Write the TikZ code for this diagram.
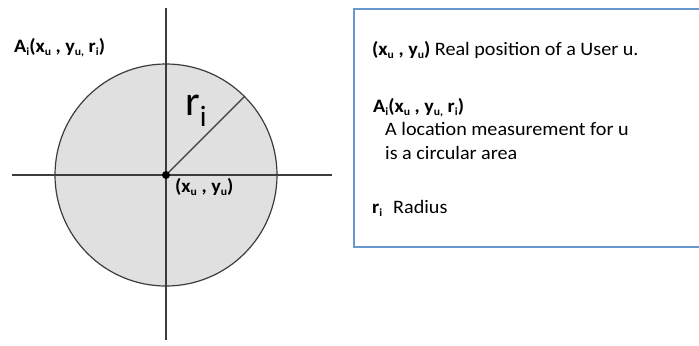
\documentclass[tikz,border=0pt]{standalone}
\usepackage{fontspec}
\setmainfont[FakeStretch=1.06]{Carlito}
\newfontfamily\narrowfont{Carlito}
\usepackage{graphicx}
\usepackage{tikz}
\usetikzlibrary{positioning, calc}
\definecolor{axisGray}{HTML}{3C3C3C}
\definecolor{areaGray}{HTML}{E0E0E0}
\definecolor{boxBlue}{HTML}{6A96D2}
\newcommand{\sbs}[1]{\raisebox{-0.35ex}{\scalebox{0.58}{#1}}}

\begin{document}
\begin{tikzpicture}[
        x=1bp, y=-1bp,
        font=\fontsize{19bp}{23bp}\selectfont,
        axis/.style={draw=axisGray, line width=1.2bp},
        lbl/.style={inner sep=0pt, anchor=base west},
        legend/.style={draw=boxBlue, line width=1.5bp},
      ]
      \useasboundingbox (0,0) rectangle (699,345);
      % circle and axes
      \coordinate (ctr) at (166,175);
      \coordinate (top) at (166,8);
      \coordinate (bot) at (166,340);
      \coordinate (lft) at (12,175);
      \coordinate (rgt) at (332,175);
      \coordinate (rim) at ($(ctr)+(-45:111)$);
      \filldraw[axis, fill=areaGray] (ctr) circle[radius=111];
      \draw[axis] (top) -- (bot);
      \draw[axis] (lft) -- (rgt);
      \draw[axis] (ctr) -- (rim);
      \node[circle, fill=black, inner sep=0pt, minimum size=8bp] (dot) at (ctr) {};
      \node[lbl] (alabel) at (14,52) {\textbf{A\sbs{i}(x\sbs{u} , y\sbs{u,} r\sbs{i})}};
      \node[lbl] (clabel) at (175,192) {\textbf{(x\sbs{u} , y\sbs{u})}};
      \node[lbl, font=\narrowfont\fontsize{42bp}{46bp}\selectfont] (rlabel) at (185,115) {r\textsubscript{i}};
      % legend box
      \node[legend, minimum width=350bp, minimum height=238bp, anchor=north west] (box) at (353,8) {};
      \node[lbl] (pos) at (372,55) {\textbf{(x\sbs{u} , y\sbs{u})} Real position of a User u.};
      \node[lbl] (area) at (373,112) {\textbf{A\sbs{i}(x\sbs{u} , y\sbs{u,} r\sbs{i})}};
      \node[lbl] (areaa) at (385,135) {A location measurement for u};
      \node[lbl] (areab) at (385,159) {is a circular area};
      \node[lbl] (rad) at (372,213) {\textbf{r\sbs{i}}};
      \node[lbl] (radtxt) at (393,213) {Radius};
    \end{tikzpicture}
\end{document}
